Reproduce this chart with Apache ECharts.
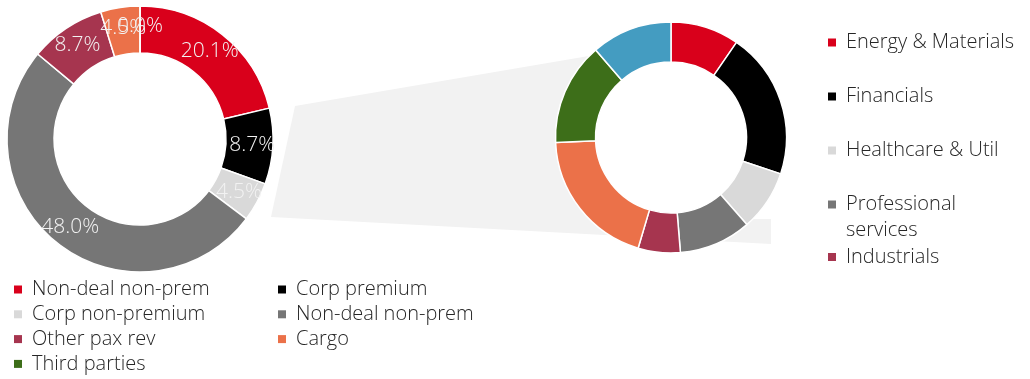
<!DOCTYPE html>
<html>
<head>
<meta charset="utf-8">
<script src="https://cdn.jsdelivr.net/npm/echarts@6/dist/echarts.min.js"></script>
<style>
  html, body { margin: 0; padding: 0; background: #ffffff; }
  #chart { width: 1030px; height: 379px; }
</style>
</head>
<body>
<div id="chart"></div>
<script>
// Revenue split (left ring) — shares in percent, as labelled
const revenueLabels = ['Non-deal non-prem', 'Corp premium', 'Corp non-premium', 'Non-deal non-prem', 'Other pax rev', 'Cargo', 'Third parties'];
const revenueShares = [20.1, 8.7, 4.5, 48.0, 8.7, 4.5, 0.0];

// Sector breakdown (right ring)
const sectorLabels = ['Energy & Materials', 'Financials', 'Healthcare & Util', 'Professional services', 'Industrials', 'Consumer', 'Technology', 'Other'];
const sectorShares = [9.6, 20.5, 8.5, 10.1, 5.9, 19.7, 14.4, 11.3];

// Legend groupings
const revenueLegendLeft = [0, 2, 4, 6];
const revenueLegendRight = [1, 3, 5];
const sectorLegend = [0, 1, 2, 3, 4];

// Palette
const revenueColors = ['#d9001b', '#000000', '#d9d9d9', '#767676', '#a6354f', '#eb7149', '#3d6e19'];
const sectorColors = ['#d9001b', '#000000', '#d9d9d9', '#767676', '#a6354f', '#eb7149', '#3d6e19', '#449cc1'];

// Layout
const FONT = '"Open Sans", "DejaVu Sans", sans-serif';
const leftRing = { center: [140, 139], radius: [86, 133] };
const rightRing = { center: [671, 137.5], radius: [75.5, 115.5] };
const connector = [[295, 106], [671, 42], [671, 219], [771, 219], [771, 244], [271, 217]];

// Duplicate category names need distinct keys inside the chart
const revKey = i => revenueLabels[i] + '#' + i;
const secKey = i => sectorLabels[i] + '#' + i;
const stripKey = name => name.split('#')[0];

const legendText = {
  color: '#262626',
  fontFamily: FONT,
  fontWeight: 300,
  fontSize: 20,
  lineHeight: 24,
  padding: [0, 0, 0, 5]
};
// Plain squares, without the white slice outline
const legendIcon = { borderWidth: 0 };

function revenueLegend(indices, left) {
  return {
    orient: 'vertical',
    left: left,
    top: 277.5,
    padding: 0,
    itemGap: 0.8,
    itemWidth: 8,
    itemHeight: 8,
    icon: 'rect',
    itemStyle: legendIcon,
    selectedMode: false,
    data: indices.map(revKey),
    formatter: stripKey,
    textStyle: legendText
  };
}

// Right-hand legend: one row per entry; the long entry wraps under its first line
const sectorRowCenters = [42.5, 96.5, 150.5, 204.5, 257];
const sectorLegends = sectorLegend.map((idx, row) => {
  const wrapped = sectorLabels[idx] === 'Professional services';
  return {
    orient: 'vertical',
    left: 828,
    top: sectorRowCenters[row] - (wrapped ? 39 : 12),
    padding: 0,
    itemWidth: 8,
    itemHeight: 8,
    icon: 'rect',
    itemStyle: legendIcon,
    selectedMode: false,
    data: [secKey(idx)],
    formatter: name => wrapped ? '\nProfessional\nservices' : stripKey(name),
    textStyle: Object.assign({}, legendText, wrapped ? { lineHeight: 26 } : {})
  };
});

const chart = echarts.init(document.getElementById('chart'), null, { renderer: 'canvas' });

chart.setOption({
  animation: false,
  backgroundColor: '#ffffff',
  graphic: {
    elements: [
      {
        type: 'polygon',
        z: 0,
        shape: { points: connector },
        style: { fill: '#f2f2f2' },
        silent: true
      },
      {
        type: 'circle',
        z: 1,
        shape: { cx: rightRing.center[0], cy: rightRing.center[1], r: rightRing.radius[0] },
        style: { fill: '#ffffff' },
        silent: true
      }
    ]
  },
  legend: [
    revenueLegend(revenueLegendLeft, 14),
    revenueLegend(revenueLegendRight, 278)
  ].concat(sectorLegends),
  series: [
    {
      type: 'pie',
      z: 5,
      center: leftRing.center,
      radius: leftRing.radius,
      startAngle: 90,
      clockwise: true,
      avoidLabelOverlap: false,
      minShowLabelAngle: 0,
      labelLayout: { hideOverlap: false },
      silent: true,
      itemStyle: { borderColor: '#ffffff', borderWidth: 1.5 },
      label: {
        show: true,
        position: 'inside',
        color: '#f2f2f2',
        fontFamily: FONT,
        fontWeight: 300,
        fontSize: 21,
        formatter: p => revenueShares[p.dataIndex].toFixed(1) + '%'
      },
      labelLine: { show: false },
      data: revenueShares.map((v, i) => ({
        name: revKey(i),
        value: v,
        itemStyle: { color: revenueColors[i] }
      }))
    },
    {
      type: 'pie',
      z: 5,
      center: rightRing.center,
      radius: rightRing.radius,
      startAngle: 90,
      clockwise: true,
      silent: true,
      itemStyle: { borderColor: '#ffffff', borderWidth: 1.5 },
      label: { show: false },
      labelLine: { show: false },
      data: sectorShares.map((v, i) => ({
        name: secKey(i),
        value: v,
        itemStyle: { color: sectorColors[i] }
      }))
    }
  ]
});
</script>
</body>
</html>
